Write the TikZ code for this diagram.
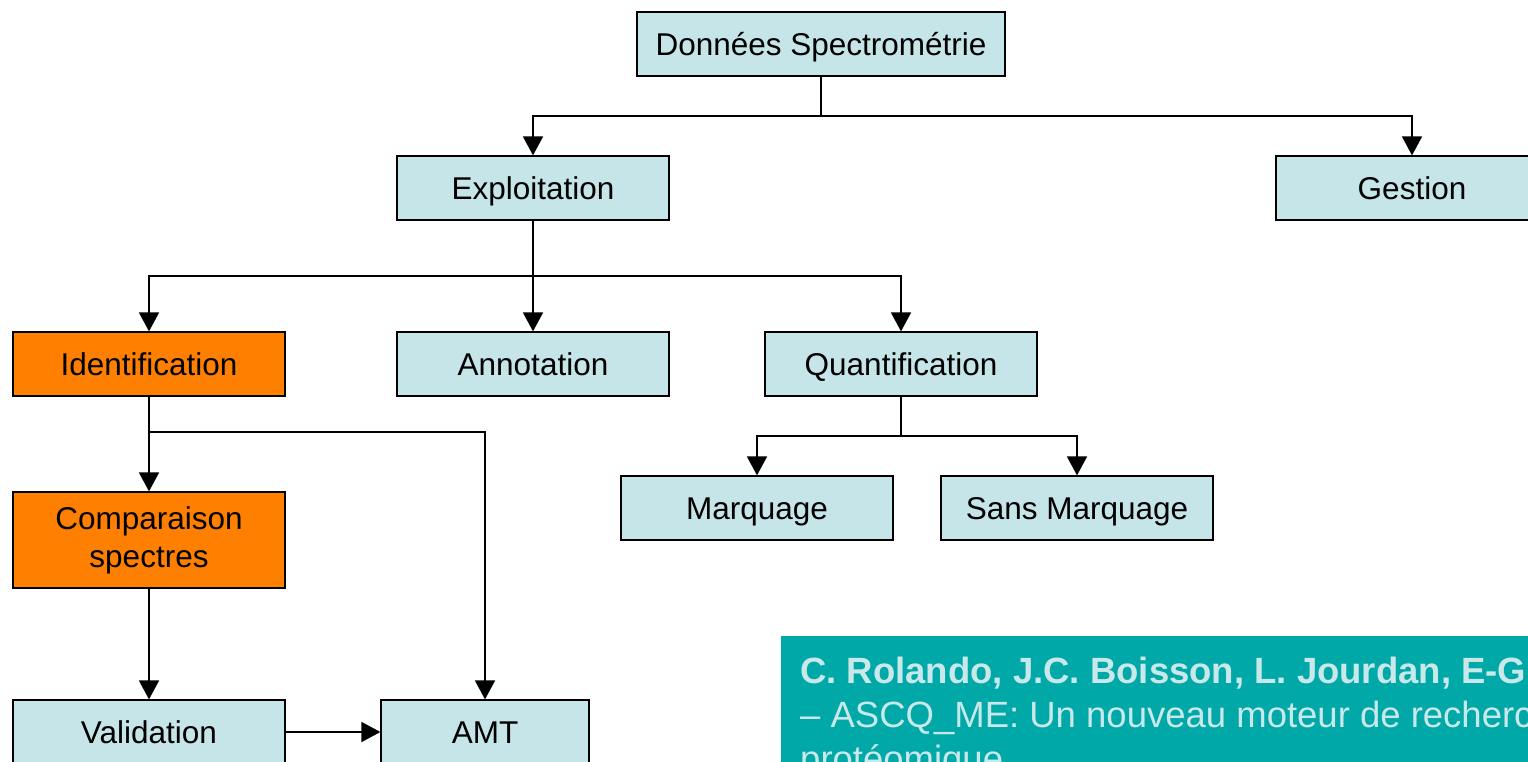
\documentclass[tikz,border=0pt]{standalone}
\usepackage{fontspec}
\setmainfont{Liberation Sans}
\usetikzlibrary{arrows.meta}
\definecolor{boxfill}{HTML}{C6E5E8}
\definecolor{hotfill}{HTML}{FF7F00}
\definecolor{refband}{HTML}{00A8A8}
\definecolor{reftext}{HTML}{C8E8EA}
\begin{document}
\begin{tikzpicture}[x=1pt,y=-1pt,
  box/.style={draw=black,line width=1.2pt,fill=boxfill,minimum width=272pt,minimum height=64pt,
    inner sep=0pt,text height=22.5pt,text depth=0pt,align=center,font=\fontsize{31.5}{38}\selectfont},
  hot/.style={box,fill=hotfill},
  link/.style={line width=1.6pt,-{Triangle[width=20pt,length=19pt]}},
  plain/.style={line width=1.6pt},
  reftxt/.style={anchor=base west,inner sep=0pt,text=reftext,font=\fontsize{36.5}{44}\selectfont}]
\useasboundingbox (0,0) rectangle (1528,762);
\clip (0,0) rectangle (1528,762);

% tree of boxes
\node[box,minimum width=368pt] (donnees) at (821,44) {Données Spectrométrie};
\node[box] (exploit) at (533,188) {Exploitation};
\node[box] (gestion) at (1412,188) {Gestion};
\node[hot] (ident) at (149,364) {Identification};
\node[box] (annot) at (533,364) {Annotation};
\node[box] (quant) at (901,364) {Quantification};
\node[box] (marq) at (757,508) {Marquage};
\node[box] (sansmarq) at (1077,508) {Sans Marquage};
\node[hot,minimum height=96pt,text height=,text depth=] (compar) at (149,540) {Comparaison\\spectres};
\node[box] (valid) at (149,732) {Validation};
\node[box,minimum width=208pt] (amt) at (485,732) {AMT};

% connectors
\coordinate (j1) at (821,116);
\draw[plain] (donnees.south) -- (j1);
\draw[link] (j1) -| (exploit.north);
\draw[link] (j1) -| (gestion.north);

\coordinate (j2) at (533,276);
\draw[plain] (exploit.south) -- (j2);
\draw[link] (j2) -| (ident.north);
\draw[link] (j2) -- (annot.north);
\draw[link] (j2) -| (quant.north);

\coordinate (j3) at (901,436);
\draw[plain] (quant.south) -- (j3);
\draw[link] (j3) -| (marq.north);
\draw[link] (j3) -| (sansmarq.north);

\coordinate (j4) at (149,432);
\draw[plain] (ident.south) -- (j4);
\draw[link] (j4) -- (compar.north);
\draw[link] (j4) -| (amt.north);

\draw[link] (compar.south) -- (valid.north);
\draw[link] (valid.east) -- (amt.west);

% reference band
\fill[refband] (781,636) rectangle (1600,800);
\node[reftxt,font=\bfseries\fontsize{36.5}{44}\selectfont] (r1) at (800,683) {C. Rolando, J.C. Boisson, L. Jourdan, E-G. Talbi};
\node[reftxt] (r2) at (800,727) {– ASCQ\_ME: Un nouveau moteur de recherche};
\node[reftxt] (r3) at (800,771) {protéomique};
\end{tikzpicture}
\end{document}
